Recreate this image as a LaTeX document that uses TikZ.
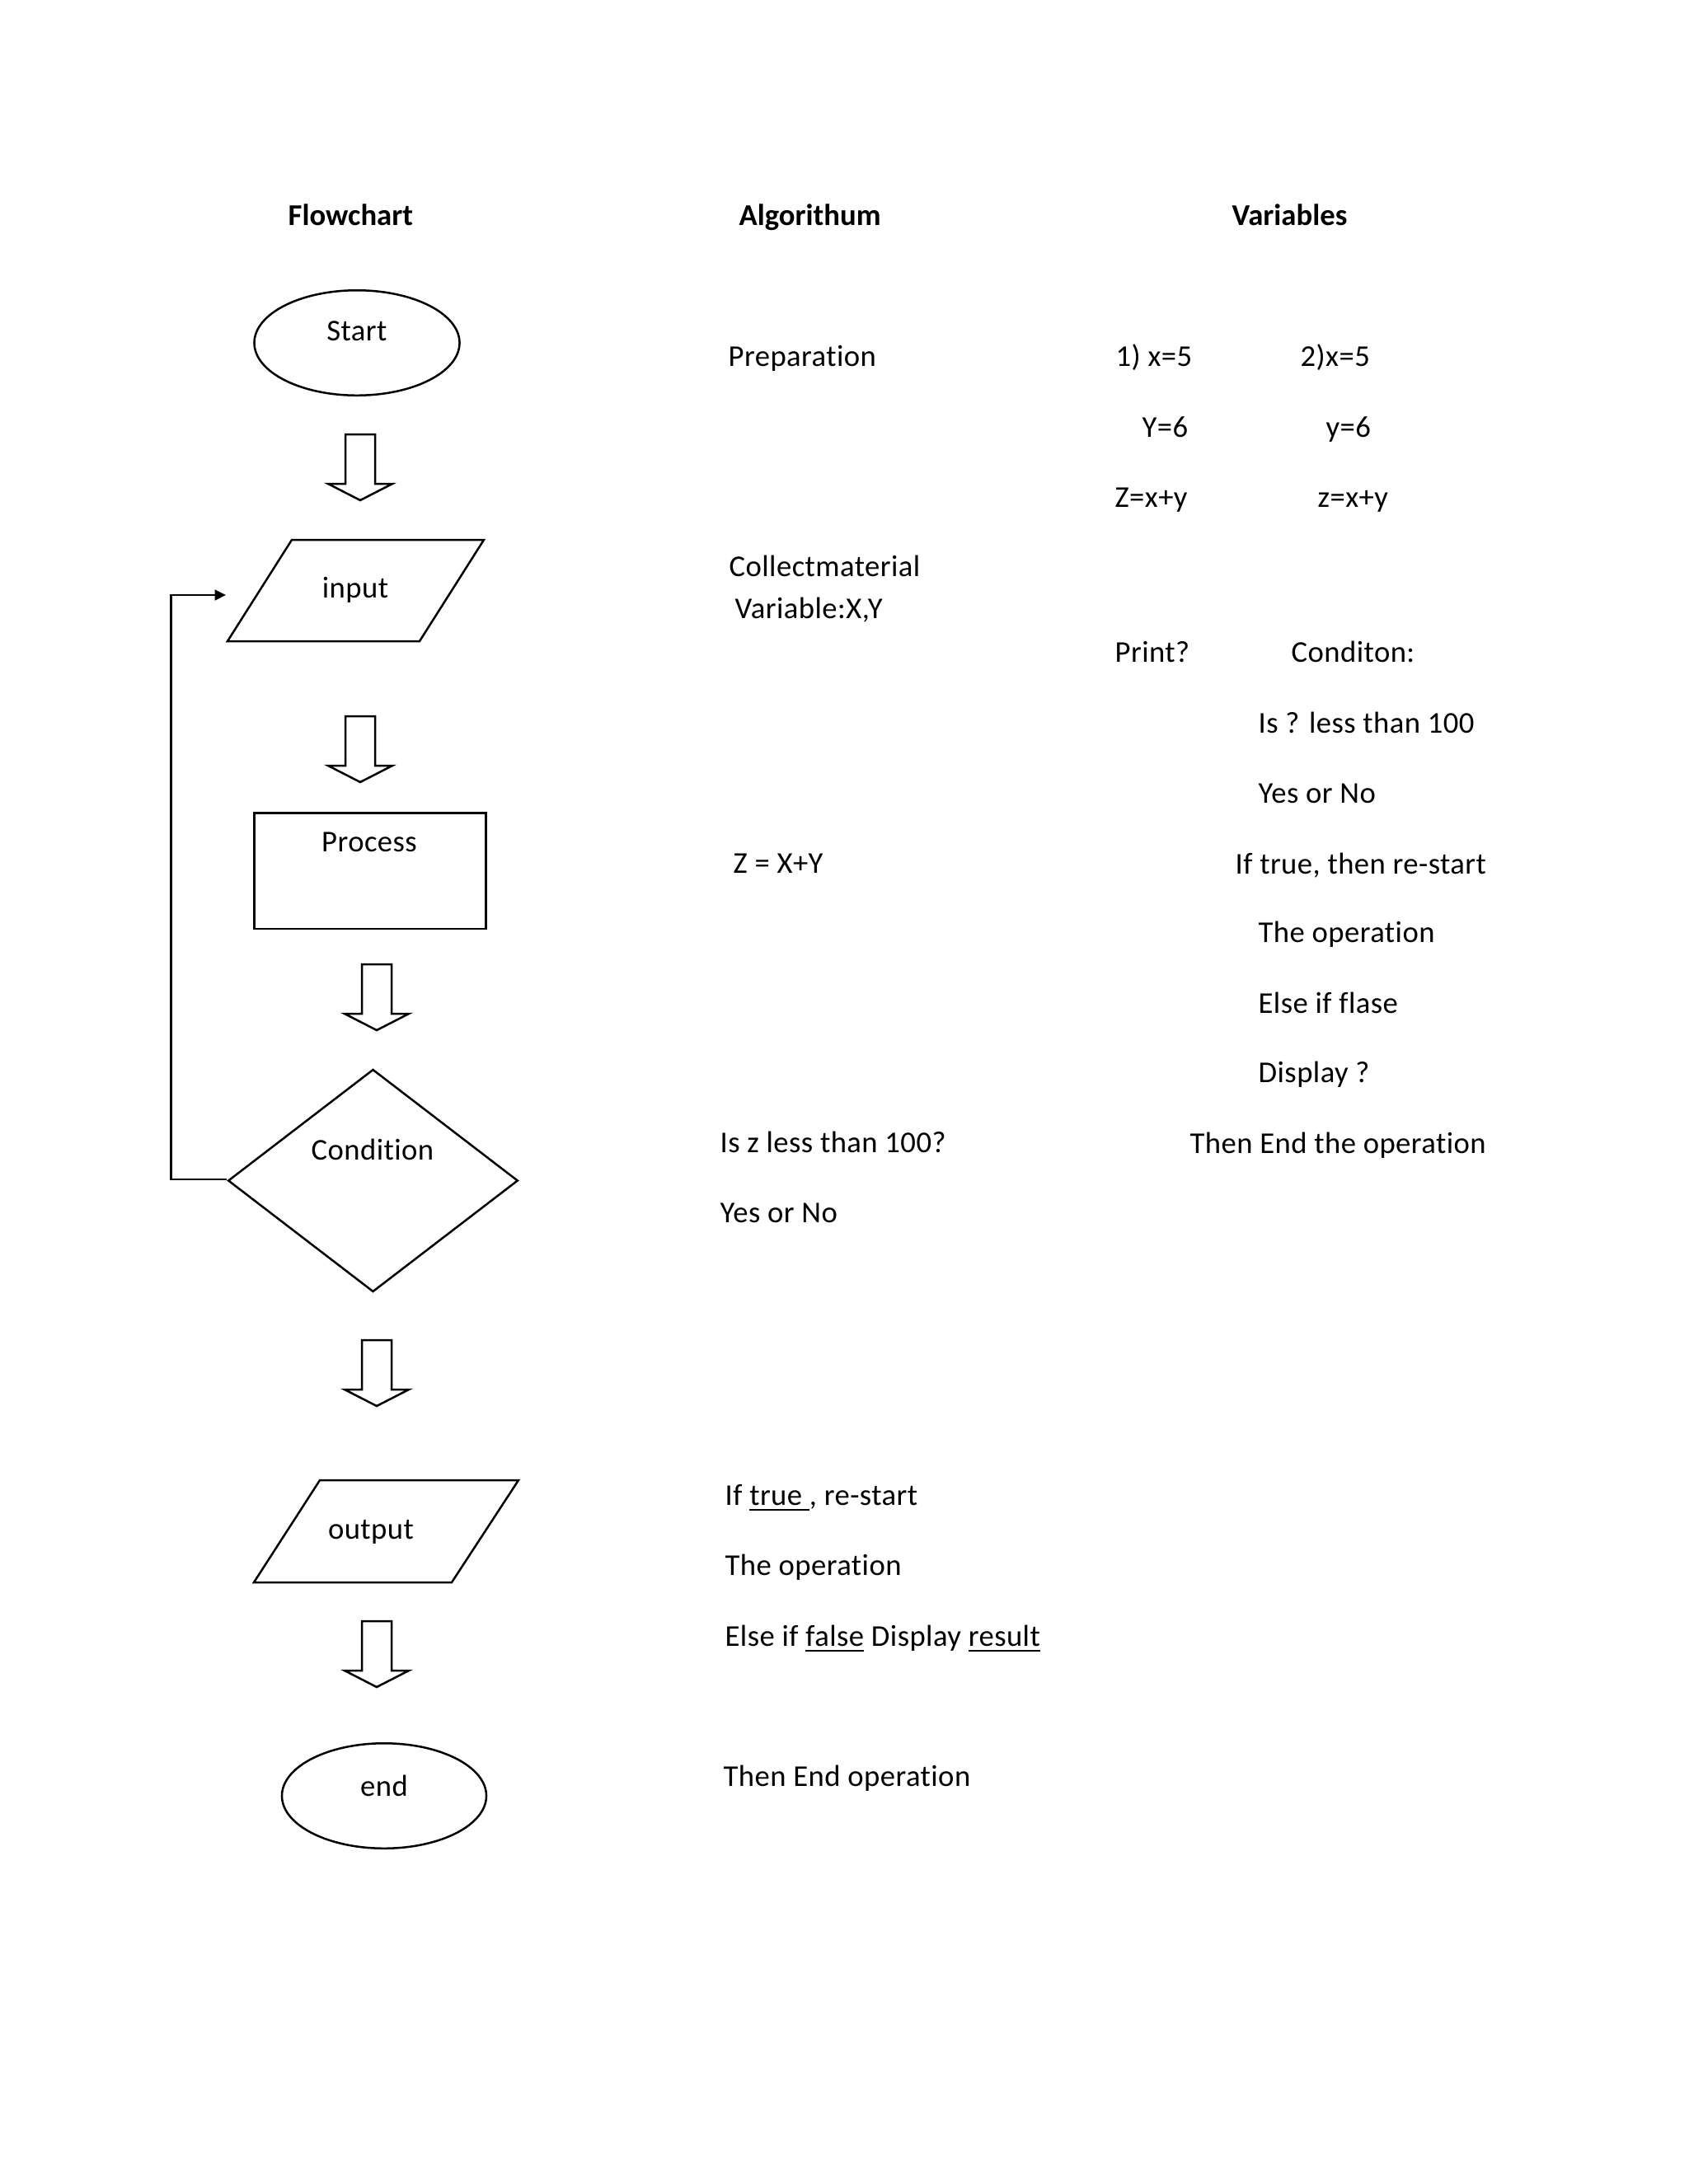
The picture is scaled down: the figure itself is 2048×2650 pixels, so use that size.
\documentclass[tikz,border=0pt]{standalone}
\usepackage{fontspec}
\setmainfont{Carlito}[Ligatures={NoCommon}, LetterSpace=1.2, BoldFeatures={LetterSpace=0}]
\usetikzlibrary{shapes.geometric,arrows.meta}
\def\pxu{0.2988pt}
\newcommand{\myul}[1]{\setbox0\hbox{#1}\rlap{\rule[-2pt]{\wd0}{0.65pt}}\box0\relax}
\tikzset{
  shp/.style={draw=black, line width=0.75pt, inner sep=0pt},
  term/.style={shp, ellipse},
  proc/.style={shp, rectangle},
  dec/.style={shp, diamond},
  blk/.style={draw=black, line width=0.75pt, line join=miter},
  back/.style={draw=black, line width=0.75pt, -{Triangle[length=4pt,width=3.8pt]}},
  txt/.style={anchor=base west, inner sep=0pt},
  lbl/.style={anchor=base, inner sep=0pt},
  hd/.style={txt, font=\fontsize{11}{13.2}\selectfont\bfseries},
}
\newcommand{\blockarrow}[1]{%
  \draw[blk] (#1) ++(-18,0) -- ++(36,0) -- ++(0,60) -- ++(21,0) -- ++(-39,20) -- ++(-39,-20) -- ++(21,0) -- cycle;}
\begin{document}
\begin{tikzpicture}[x=0.00415in, y=-0.00415in, font=\fontsize{11}{13.2}\selectfont]
\useasboundingbox (0,0) rectangle (2048,2650);
\fill[white] (0,0) rectangle (2048,2650);

% headings
\node[hd] (h1) at (349,273) {Flowchart};
\node[hd] (h2) at (896,273) {Algorithum};
\node[hd] (h3) at (1494,273) {Variables};

% flowchart shapes
\node[term, minimum width=250*\pxu, minimum height=128*\pxu] (start) at (433,416) {};
\node[lbl] (startt) at (433,413) {Start};

\coordinate (a1) at (437,527);
\blockarrow{a1}

\draw[shp] (354,655) -- (587,655) -- (509,778) -- (276,778) -- cycle;
\node[lbl] (inputt) at (431,725) {input};

\coordinate (a2) at (437,869);
\blockarrow{a2}

\node[proc, minimum width=282*\pxu, minimum height=141*\pxu] (process) at (449,1056.5) {};
\node[lbl] (processt) at (448,1033) {Process};

\coordinate (a3) at (457,1170);
\blockarrow{a3}

\node[dec, minimum width=353*\pxu, minimum height=271*\pxu] (cond) at (452.5,1432.5) {};
\node[lbl] (condt) at (452,1407) {Condition};

\coordinate (a4) at (457,1626);
\blockarrow{a4}

\draw[shp] (388,1796) -- (629,1796) -- (548,1920) -- (308,1920) -- cycle;
\node[lbl] (outputt) at (450,1867) {output};

\coordinate (a5) at (457,1967);
\blockarrow{a5}

\node[term, minimum width=249*\pxu, minimum height=128*\pxu] (end) at (466,2179) {};
\node[lbl] (endt) at (466,2179) {end};

% loop back connector
\coordinate (loopend) at (274,722);
\draw[back] ([yshift=0.5pt]cond.west) -- ++(-68,0) |- (loopend);

% algorithm column
\node[txt] (p1) at (883,444) {Preparation};
\node[txt] (p2) at (884,699) {Collectmaterial};
\node[txt] (p3) at (891,750) {Variable:X,Y};
\node[txt] (p4) at (889,1059) {Z = X+Y};
\node[txt] (p5) at (873,1398) {Is z less than 100?};
\node[txt] (p6) at (873,1483) {Yes or No};
\node[txt] (p7) at (879,1826) {If \myul{true\ }, re-start};
\node[txt] (p8) at (879,1911) {The operation};
\node[txt] (p9) at (879,1997) {Else if \myul{false} Display \myul{result}};
\node[txt] (p10) at (877,2167) {Then End operation};

% variables column
\node[txt] (v1) at (1353,444) {1) x=5};
\node[txt] (v2) at (1577,444) {2)x=5};
\node[txt] (v3) at (1385,530) {Y=6};
\node[txt] (v4) at (1608,530) {y=6};
\node[txt] (v5) at (1352,615) {Z=x+y};
\node[txt] (v6) at (1598,615) {z=x+y};
\node[txt] (v7) at (1352,803) {Print?};
\node[txt] (v8) at (1566,803) {Conditon:};
\node[txt] (v9) at (1526,889) {Is ? less than 100};
\node[txt] (v10) at (1526,974) {Yes or No};
\node[txt] (v11) at (1498,1060) {If true, then re-start};
\node[txt] (v12) at (1526,1143) {The operation};
\node[txt] (v13) at (1526,1229) {Else if flase};
\node[txt] (v14) at (1526,1313) {Display ?};
\node[txt] (v15) at (1443,1399) {Then End the operation};
\end{tikzpicture}
\end{document}
